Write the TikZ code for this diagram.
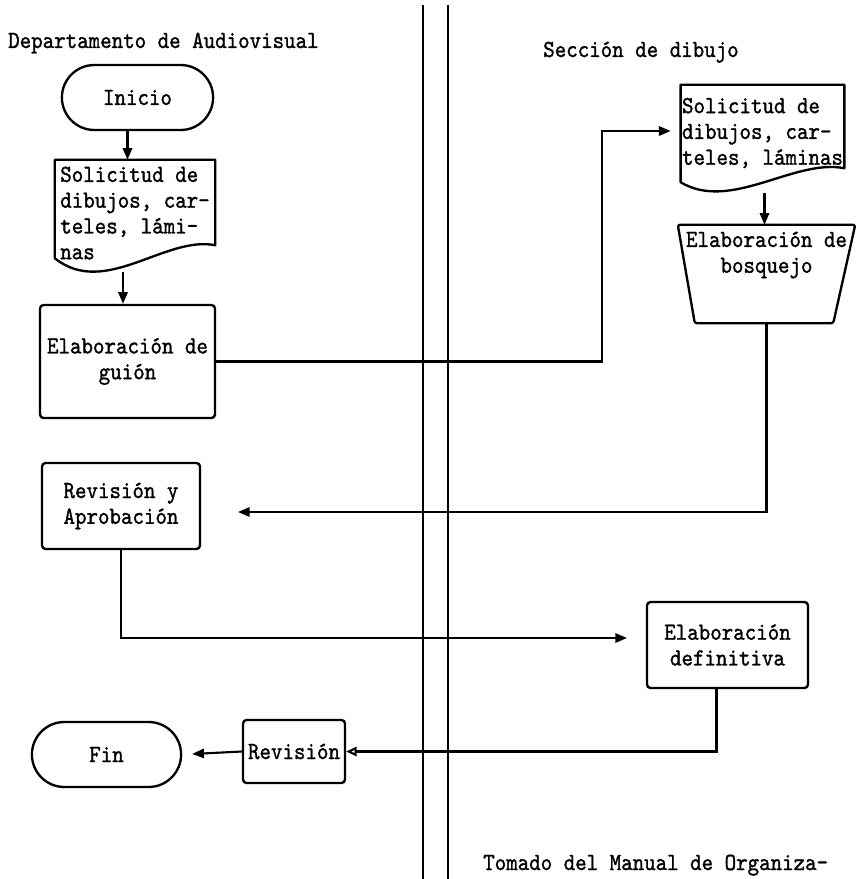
\documentclass[tikz,border=0pt]{standalone}
\usepackage{fontspec}
\usepackage{tikz}
\usetikzlibrary{arrows.meta,calc,shapes.misc,positioning}

\newfontfamily\typew{lmmono10-regular}[Extension=.otf, FakeBold=1.2, FakeStretch=0.89]

\tikzset{
  process/.style={draw, line width=2pt, rounded corners=3pt, align=center, inner sep=2pt},
  terminal/.style={draw, line width=2pt, rounded rectangle, align=center},
  docarea/.style={inner sep=1pt, align=left},
  shapeline/.style={line width=2pt, line join=round},
  flow/.style={line width=1.8pt, -{Triangle[length=10pt,width=8pt]}},
  flowopen/.style={line width=1.8pt, -{Triangle[open,length=9pt,width=8pt]}},
  title/.style={anchor=base west, inner sep=0pt}
}

\begin{document}
\begin{tikzpicture}[x=0.03cm, y=-0.03cm, font=\typew\fontsize{21}{22}\selectfont]
    \useasboundingbox (0,0) rectangle (857,879);

    % Draw column dividers
    \draw[line width=2.2pt] (423,5) -- (423,879);
    \draw[line width=2.2pt] (448,5) -- (448,879);

    % Column titles
    \node[title] (dept) at (8,48) {Departamento de Audiovisual};
    \node[title] (secc) at (543,57) {Sección de dibujo};

    % Left column
    \node[terminal, minimum width=4.77cm, minimum height=1.95cm] (inicio) at (137.5,97.5) {Inicio};
    \node[docarea, minimum width=4.8cm, minimum height=3.18cm] (doc1) at (135,213) {Solicitud de\\dibujos, car-\\teles, lámi-\\nas};
    \draw[shapeline] (doc1.north west) -- (doc1.north east) -- ($(doc1.south east)+(0,-21)$)
        .. controls +(-50,-10) and +(50,40) .. ($(doc1.south west)+(0,-8)$) -- cycle;
    \node[process, minimum width=5.25cm, minimum height=3.39cm] (guion) at (127.5,361.5) {Elaboración de\\guión};
    \node[process, minimum width=4.74cm, minimum height=2.58cm] (revap) at (121,506) {Revisión y\\Aprobación};
    \node[process, minimum width=3.06cm, minimum height=1.89cm] (revis) at (294,751.5) {Revisión};
    \node[terminal, minimum width=4.71cm, minimum height=1.95cm] (fin) at (106.5,754.5) {Fin};

    % Right column
    \node[docarea, minimum width=4.83cm, minimum height=2.88cm] (doc2) at (762.5,133) {Solicitud de\\dibujos, car-\\teles, láminas};
    \draw[shapeline] (doc2.north west) -- (doc2.north east) -- ($(doc2.south east)+(0,-13)$)
        .. controls +(-50,-10) and +(50,30) .. ($(doc2.south west)+(0,1)$) -- cycle;
    \node[minimum width=5.31cm, minimum height=2.94cm, inner sep=0pt] (bosq) at (766.5,274) {};
    \draw[shapeline, rounded corners=2pt] (bosq.north west) -- (bosq.north east) -- ($(bosq.south east)+(-22,0)$)
        -- ($(bosq.south west)+(17,0)$) -- cycle;
    \node[align=center, inner sep=0pt, below=0.2cm of bosq.north] (bosqtxt) {Elaboración de\\bosquejo};
    \node[process, minimum width=4.83cm, minimum height=2.58cm] (defin) at (727.5,645) {Elaboración\\definitiva};

    % Free ends of connectors
    \coordinate (i1out) at ($(inicio.south)+(-10,0)$);
    \coordinate (d1out) at ($(doc1.south)+(-12,6)$);
    \coordinate (d2out) at ($(doc2.south)+(2,12)$);
    \coordinate (r1) at (602,131);
    \coordinate (revapin) at (238,512);
    \coordinate (definin) at (627,638);

    % Connectors
    \draw[flow] (i1out) -- (i1out |- doc1.north);
    \draw[flow] (d1out) -- (d1out |- guion.north);
    \draw[flow, shorten >=0.3cm] (guion.east) -| (r1) -- (r1 -| doc2.west);
    \draw[flow] (d2out) -- (d2out |- bosq.north);
    \draw[flow] (bosq.south) |- (revapin);
    \draw[flow] (revap.south) |- (definin);
    \draw[flowopen] ($(defin.south)+(-11,0)$) |- (revis.east);
    \draw[flow, shorten >=0.3cm] (revis.west) -- (fin.east);

    % Source note
    \node[title] (fuente) at (483,870) {Tomado del Manual de Organiza-};
\end{tikzpicture}
\end{document}
